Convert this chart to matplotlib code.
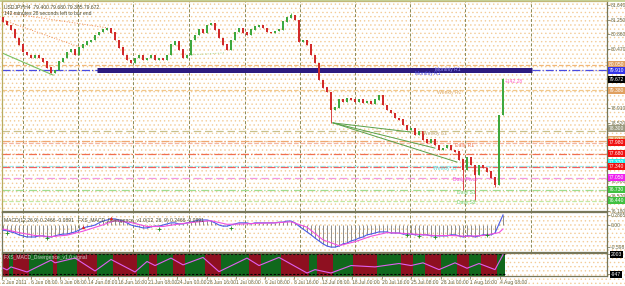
import matplotlib
matplotlib.use("Agg")
import matplotlib.pyplot as plt
from matplotlib import font_manager
from matplotlib.patches import Rectangle
from matplotlib.transforms import blended_transform_factory

# ---- data (bar = one 8h slot) ----
first_open = 81.30
closes = [81.19, 81.11, 80.98, 80.76, 80.58, 80.39, 80.31, 80.23, 80.31, 80.23,
          80.13, 79.97, 79.83, 79.91, 80.13, 80.23, 80.39, 80.45, 80.31, 80.50,
          80.58, 80.66, 80.71, 80.84, 80.92, 80.98, 81.03, 80.90, 80.71, 80.50,
          80.31, 80.18, 80.10, 80.23, 80.29, 80.18, 80.23, 80.29, 80.18, 80.23,
          80.18, 80.31, 80.58, 80.66, 80.45, 80.23, 80.31, 80.71, 80.84, 80.98,
          80.90, 81.11, 81.16, 80.98, 80.76, 80.58, 80.45, 80.71, 80.92, 81.03,
          80.90, 80.84, 80.98, 81.06, 81.11, 81.03, 80.92, 80.90, 80.95, 80.98,
          81.19, 81.30, 81.37, 81.24, 80.66, 80.71, 80.58, 80.31, 80.10, 79.65,
          79.44, 79.33, 78.85, 78.91, 79.12, 79.07, 79.17, 79.12, 79.07, 79.12,
          79.04, 79.07, 79.01, 79.12, 79.25, 78.98, 78.85, 78.77, 78.64, 78.59,
          78.45, 78.32, 78.37, 78.19, 78.27, 78.06, 77.98, 78.06, 77.92, 77.79,
          77.84, 77.90, 77.79, 77.74, 77.53, 77.26, 77.58, 77.39, 77.13, 77.39,
          77.31, 77.21, 77.05, 76.86, 78.72, 79.672]
wick_high = {72: 81.43, 125: 79.70}
wick_low = {82: 78.51, 115: 76.73, 118: 76.46, 123: 76.80}

macd = [-0.13, -0.15, -0.18, -0.21, -0.26, -0.29, -0.32, -0.32, -0.32, -0.29,
        -0.29, -0.32, -0.32, -0.29, -0.26, -0.24, -0.24, -0.21, -0.18, -0.13,
        -0.07, -0.04, -0.02, 0.01, 0.07, 0.12, 0.15, 0.18, 0.18, 0.15,
        0.12, 0.07, 0.01, -0.02, -0.04, -0.07, -0.07, -0.04, -0.02, -0.02,
        0.01, 0.04, 0.07, 0.07, 0.04, 0.04, 0.07, 0.09, 0.12, 0.15,
        0.15, 0.15, 0.12, 0.07, 0.01, -0.02, -0.02, 0.01, 0.04, 0.07,
        0.07, 0.07, 0.04, 0.07, 0.07, 0.07, 0.07, 0.07, 0.07, 0.09,
        0.09, 0.12, 0.12, 0.07, -0.02, -0.10, -0.18, -0.26, -0.35, -0.43,
        -0.51, -0.57, -0.60, -0.60, -0.57, -0.51, -0.49, -0.43, -0.40, -0.35,
        -0.32, -0.26, -0.24, -0.21, -0.18, -0.18, -0.18, -0.21, -0.21, -0.21,
        -0.24, -0.24, -0.24, -0.26, -0.26, -0.26, -0.26, -0.29, -0.29, -0.29,
        -0.29, -0.29, -0.26, -0.26, -0.29, -0.32, -0.29, -0.29, -0.32, -0.29,
        -0.26, -0.26, -0.26, -0.21, 0.04, 0.29]
signal_bars = [0, 4, 8, 12, 16, 20, 24, 28, 32, 36, 40, 44, 48, 52, 56, 60, 64,
               68, 72, 76, 80, 84, 88, 92, 96, 100, 104, 108, 112, 116, 120, 124, 125]
signal = [-0.10, -0.20, -0.28, -0.31, -0.27, -0.16, -0.02, 0.13, 0.08, -0.03,
          -0.03, 0.04, 0.09, 0.13, 0.03, 0.04, 0.06, 0.07, 0.10, -0.05,
          -0.40, -0.56, -0.45, -0.30, -0.20, -0.22, -0.25, -0.28, -0.28, -0.30,
          -0.28, -0.20, -0.10]
div_up_bars = [20, 27]
div_up_vals = [-0.04, 0.20]
div_dn_bars = [1, 11, 39, 57, 101, 104, 108, 121]
div_dn_vals = [-0.22, -0.34, -0.10, -0.06, -0.27, -0.30, -0.33, -0.26]

levels = [80.05, 79.91, 79.38, 78.30, 78.03, 77.98, 77.68, 77.37, 77.34, 77.05, 76.73, 76.44]
level_colors = ['#f2b878', '#4a4ae0', '#f2c88a', '#c8c08c', '#f0a870', '#f4b4a0',
                '#f07050', '#9af0f0', '#f06060', '#f29ae0', '#a0dc90', '#c4e8a4']
level_styles = ['--', '-.', '--', (0, (6, 3)), '-.', '--', '-.', '--', '-.', (0, (6, 3)), '-.', '--']
# where MT4 stacked the price boxes on the right scale
box_prices = [80.07, 79.91, 79.38, 78.35, 78.08, 77.98, 77.71, 77.45, 77.34, 77.07, 76.73, 76.46]
box_colors = ['#e0a060', '#3434e8', '#e0a060', '#9a9a80', '#e0a060', '#f01010',
              '#f01010', '#20f0f0', '#f01010', '#f020f0', '#40c040', '#40c040']
last_price = 79.672

level_notes = ["Monthly R1", "Monthly R1", "Weekly R2", "+142.28", "Weekly S1", "Daily R1",
               "Weekly S2", "Daily Pivot", "Daily S1", "Daily S2"]
note_bars = [103, 108, 108.5, 125.5, 105, 113, 107.5, 112.5, 113.5, 113.5]
note_prices = [79.83, 79.93, 79.33, 79.60, 78.22, 77.90, 77.30, 77.00, 76.67, 76.40]
note_colors = ['#5050e0', '#9a9aff', '#e0b070', '#ff60c8', '#c8b488', '#f08060',
               '#60e0e0', '#f050e0', '#70d070', '#70d070']

# scale labels that MT4 leaves visible (others sit under the price boxes)
price_ticks = [81.640, 81.250, 80.860, 80.470, 78.910, 78.520,
               76.960, 76.570, 76.180]

band_runs = [('r', 2), ('g', 1), ('r', 4), ('g', 6), ('r', 1), ('g', 5), ('r', 5), ('g', 4),
             ('r', 6), ('g', 3), ('r', 2), ('g', 4), ('r', 3), ('g', 5), ('r', 4), ('g', 7),
             ('r', 3), ('g', 5), ('r', 7), ('g', 2), ('r', 4), ('g', 5), ('r', 6), ('g', 6),
             ('r', 3), ('g', 3), ('r', 4), ('g', 4), ('r', 3), ('g', 3), ('r', 4), ('g', 2)]
osc_bars = [0, 1, 2, 6, 12, 13, 18, 23, 27, 33, 36, 38, 42, 45, 50, 54, 61, 64,
            69, 76, 78, 82, 87, 93, 99, 102, 105, 109, 113, 116, 119, 123, 125]
osc_vals = [-60, -350, 100, -650, 1100, 700, 1400, -500, 1200, -650, 900, 300, 1400,
            400, 1500, -600, 1400, 300, 1500, -800, -300, -800, 300, 100, 600, 300,
            700, -300, 700, -100, 600, -300, 1900]

date_labels = ["2 Jun 2011", "6 Jun 08:00", "9 Jun 08:00", "14 Jun 08:00", "16 Jun 16:00",
               "21 Jun 08:00", "24 Jun 00:00", "28 Jun 16:00", "1 Jul 08:00", "6 Jul 08:00",
               "8 Jul 16:00", "13 Jul 08:00", "18 Jul 00:00", "20 Jul 16:00", "25 Jul 08:00",
               "28 Jul 00:00", "1 Aug 16:00", "4 Aug 08:00"]
date_ticks = [-0.25, 7, 14.25, 21.25, 28.75, 36.25, 43.5, 51, 58.25, 65.5, 72.75,
              79.75, 87.25, 94.75, 102, 109.5, 116.75, 124.25]
grid_bars = [5, 18.75, 32.5, 46.5, 60.5, 74.25, 88, 101.75, 115.5, 132]

# ---- fonts ----
names = {f.name for f in font_manager.fontManager.ttflist}
if 'Liberation Sans Narrow' in names:
    small_font = 'Liberation Sans Narrow'
elif 'Liberation Sans' in names:
    small_font = 'Liberation Sans'
else:
    small_font = 'DejaVu Sans'
plt.rcParams['font.family'] = [small_font, 'DejaVu Sans']
plt.rcParams['hatch.color'] = '#f3cc98'
plt.rcParams['hatch.linewidth'] = 0.5
FS = 3.6
axis_col = '#6a6a48'
frame_col = '#77775a'

W, H = 625, 286
fig = plt.figure(figsize=(6.25, 2.86), dpi=100)


def frac(x0, y0, x1, y1):
    return [x0 / W, 1 - y1 / H, (x1 - x0) / W, (y1 - y0) / H]


# dotted paper background
bg = fig.add_axes([0, 0, 1, 1])
bg.axis('off')
bg.add_patch(Rectangle((0, 0), 1, 1, transform=bg.transAxes, facecolor='white',
                       edgecolor='#f3cc98', hatch='....', lw=0))
bg.add_patch(Rectangle((0, 0.993), 1, 0.007, transform=bg.transAxes,
                       facecolor='#c8d49a', lw=0))

ax = fig.add_axes(frac(2, 1, 607, 211))
mx = fig.add_axes(frac(2, 212, 607, 252))
ox = fig.add_axes(frac(2, 253, 607, 276))
for a in (ax, mx, ox):
    a.set_facecolor('none')
    a.set_xlim(-0.25, 151)
    for s in a.spines.values():
        s.set_color(frame_col)
        s.set_linewidth(0.9)
    a.yaxis.tick_right()
    a.tick_params(axis='y', labelsize=FS, length=2, pad=0.8, colors=axis_col, width=0.5)
ax.spines['left'].set_color('#b8ac60')
ax.spines['top'].set_color('#c0b878')

# ---- main price panel ----
ax.set_ylim(76.171, 81.746)
ax.set_xticks([])
ax.set_yticks(price_ticks)
ax.set_yticklabels([f"{v:.3f}" for v in price_ticks])
for gb in grid_bars:
    ax.axvline(gb, color='#8a8a58', lw=0.7, ls=(0, (3, 2)), zorder=1)
    mx.axvline(gb, color='#8a8a58', lw=0.7, ls=(0, (3, 2)), zorder=1)

for lv, c, st in zip(levels, level_colors, level_styles):
    ax.axhline(lv, color=c, lw=0.9, ls=st, zorder=1.5)
ax.hlines(79.91, 23.5, 132.25, color='#2c1b80', lw=3.6, zorder=2)

# trend lines
ax.plot([0, 26.25], [81.45, 81.03], color='#f08a50', lw=0.7, ls=':', zorder=2)
ax.plot([0, 19.25], [81.24, 80.52], color='#f08a50', lw=0.7, ls=':', zorder=2)
ax.plot([-0.75, 12.5], [80.39, 79.78], color='#78c060', lw=0.8, zorder=2)
ax.plot([46, 55.5], [80.31, 80.37], color='#a8d890', lw=0.7, ls=':', zorder=2)
for ex, ey in [(101.75, 78.27), (108, 77.84), (113.5, 77.47)]:
    ax.plot([82.5, ex], [78.51, ey], color='#58a048', lw=0.7, zorder=2)

opens = [first_open] + closes[:-1]
for i, (o, c) in enumerate(zip(opens, closes)):
    col = '#3ea83e' if c >= o else '#d22a2a'
    hi = max(o, c, wick_high.get(i, c))
    lo = min(o, c, wick_low.get(i, c))
    ax.vlines(i, lo, hi, color=col, lw=0.6, zorder=3)
    ax.bar(i, abs(c - o) + 0.012, bottom=min(o, c), width=0.55, color=col, lw=0, zorder=3)

for t, b, p, c in zip(level_notes, note_bars, note_prices, note_colors):
    ax.text(b, p, t, fontsize=FS, color=c, ha='left', va='center', zorder=4)

ax.text(0.003, 0.985, "USDJPY,H4  79.400 79.680 79.305 79.672", transform=ax.transAxes,
        fontsize=FS, color='#4a4a30', va='top')
ax.text(0.003, 0.952, "142 minutes 28 seconds left to bar end", transform=ax.transAxes,
        fontsize=FS, color='#4a4a30', va='top')

tr = blended_transform_factory(ax.transAxes, ax.transData)
for lv, bp, bc in zip(levels, box_prices, box_colors):
    ax.text(1.003, bp, f"{lv:.3f}", transform=tr, fontsize=FS, color='white', va='center',
            ha='left', clip_on=False, zorder=5,
            bbox=dict(boxstyle='square,pad=0.2', fc=bc, ec='none'))
ax.text(1.003, last_price, f"{last_price:.3f}", transform=tr, fontsize=FS, color='white',
        va='center', ha='left', clip_on=False, zorder=6,
        bbox=dict(boxstyle='square,pad=0.2', fc='black', ec='none'))

# ---- MACD panel ----
mx.set_ylim(-0.735, 0.370)
mx.set_xticks([])
mx.set_yticks([0.2865, 0.0, -0.598])
mx.set_yticklabels(['0.2865', '0.00', '-0.598'])
mx.vlines(range(len(macd)), 0, macd, color='#7c7c7c', lw=0.6, zorder=2)
mx.plot(range(len(macd)), macd, color='#4a5ae8', lw=0.8, zorder=3)
mx.plot(signal_bars, signal, color='#f050e0', lw=0.8, zorder=3)
mx.scatter(div_up_bars, div_up_vals, marker='^', s=6, color='#e82020', lw=0, zorder=4)
mx.scatter(div_dn_bars, div_dn_vals, marker='+', s=6, color='#208a20', lw=0.6, zorder=4)
mx.text(0.003, 0.86, "MACD(12,26,9) 0.2466 -0.0891   FXS_MACD_Divergence_v1.0(12, 26, 9) 0.2466 -0.0891",
        transform=mx.transAxes, fontsize=FS, color='#4a4a30', va='top')

# ---- bottom oscillator panel ----
ox.set_ylim(-1242, 2150)
start = 0
for kind, n in band_runs:
    ox.axvspan(start - 0.5, start + n - 0.5, color='#8e1020' if kind == 'r' else '#10681c',
               lw=0, zorder=1)
    start += n
ox.hlines([2003, -947], -0.5, start - 0.5, color='black', lw=0.8, ls=(0, (2, 1.5)), zorder=2)
ox.plot(osc_bars, osc_vals, color='#e060f0', lw=0.8, zorder=3)
ox.set_yticks([2003, -947])
ox.set_yticklabels(['2003', '-947'])
for lab in ox.get_yticklabels():
    lab.set_color('white')
    lab.set_bbox(dict(boxstyle='square,pad=0.15', fc='black', ec='none'))
ox.text(0.003, 0.93, "FXS_MACD_Divergence_v1.0 signal", transform=ox.transAxes,
        fontsize=FS, color='#c8c8c8', va='top', zorder=4)
ox.set_xticks(date_ticks)
ox.set_xticklabels(date_labels, ha='left')
ox.tick_params(axis='x', labelsize=FS, length=2, pad=1, colors=axis_col, width=0.5)

fig.savefig('out.png', dpi=100)
